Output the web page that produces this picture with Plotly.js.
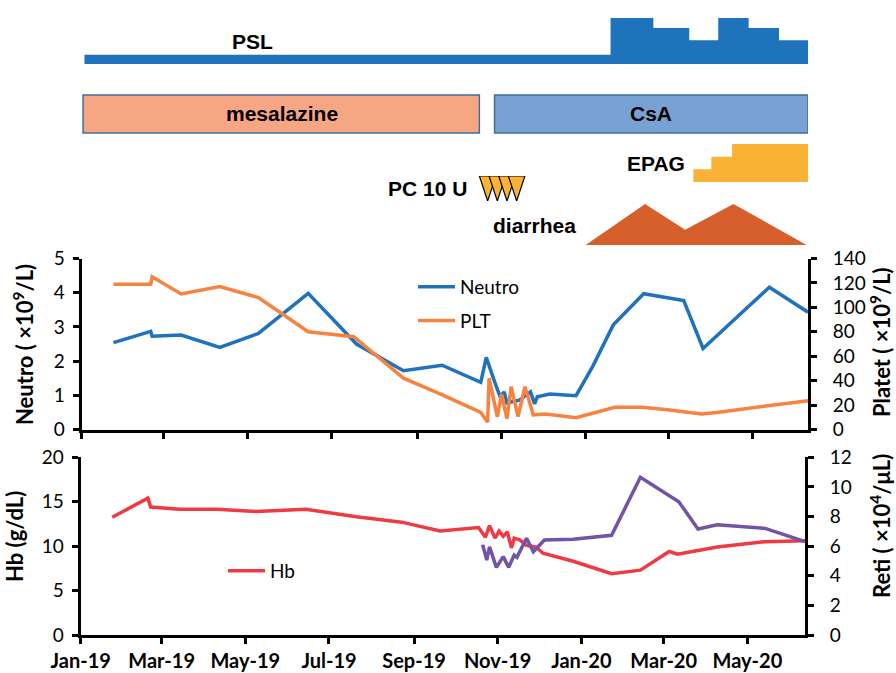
<!DOCTYPE html>
<html>
<head>
<meta charset="utf-8">
<script src="https://cdn.plot.ly/plotly-3.0.1.min.js"></script>
<style>html,body{margin:0;padding:0;background:#fff;}#chart{width:896px;height:673px;}</style>
</head>
<body>
<div id="chart"></div>
<script>
// ---------- data ----------
const tickDates = ['2019-01-01','2019-03-01','2019-05-01','2019-07-01','2019-09-01','2019-11-01','2020-01-01','2020-03-01','2020-05-01'];
const tickLabels = ['Jan-19','Mar-19','May-19','Jul-19','Sep-19','Nov-19','Jan-20','Mar-20','May-20'];

const neutroDates = ['2019-01-24','2019-02-20','2019-02-21','2019-03-14','2019-04-11','2019-05-09','2019-06-14','2019-07-19','2019-08-22','2019-09-19','2019-10-17','2019-10-21','2019-10-27','2019-10-31','2019-11-03','2019-11-05','2019-11-14','2019-11-22','2019-11-25','2019-11-27','2019-12-06','2019-12-25','2020-01-06','2020-01-21','2020-02-12','2020-03-12','2020-03-26','2020-05-13','2020-06-10'];
const neutroValues = [2.54,2.87,2.73,2.76,2.40,2.81,3.98,2.50,1.72,1.88,1.38,2.11,1.40,0.96,1.10,0.78,0.86,1.10,0.75,0.96,1.04,0.99,1.84,3.06,3.97,3.77,2.37,4.16,3.43];

const pltDates = ['2019-01-24','2019-02-20','2019-02-21','2019-03-14','2019-04-11','2019-05-09','2019-06-14','2019-07-17','2019-08-22','2019-09-18','2019-10-17','2019-10-22','2019-10-23','2019-10-29','2019-11-01','2019-11-05','2019-11-08','2019-11-13','2019-11-18','2019-11-24','2019-12-03','2019-12-25','2020-01-22','2020-02-11','2020-03-02','2020-03-25','2020-04-05','2020-05-13','2020-06-10'];
const pltValues = [119,119,125,111,117,108,80,76,42,29,14,6,42,10.5,29,9,35,10.5,35,12,12.7,9.7,18.2,18.2,16,12.7,14,19.5,23.6];

const hbDates = ['2019-01-24','2019-02-19','2019-02-21','2019-03-14','2019-04-10','2019-05-09','2019-06-14','2019-07-21','2019-08-23','2019-09-20','2019-10-18','2019-10-23','2019-10-26','2019-10-30','2019-11-02','2019-11-05','2019-11-08','2019-11-11','2019-11-13','2019-11-17','2019-11-22','2019-11-29','2019-12-04','2019-12-26','2020-01-23','2020-02-13','2020-03-05','2020-03-11','2020-03-26','2020-04-09','2020-05-14','2020-06-12'];
const hbValues = [13.25,15.4,14.4,14.15,14.15,13.9,14.15,13.3,12.7,11.7,12.1,11.0,12.3,10.9,11.7,11.1,11.6,9.8,10.9,10.7,10.1,9.9,9.2,8.3,6.9,7.3,9.4,9.1,9.5,9.9,10.5,10.6];

const retiDates = ['2019-10-21','2019-10-24','2019-10-26','2019-10-31','2019-11-05','2019-11-09','2019-11-13','2019-11-15','2019-11-22','2019-11-27','2019-12-05','2019-12-26','2020-01-23','2020-02-13','2020-03-12','2020-03-26','2020-04-09','2020-05-14','2020-06-12'];
const retiValues = [6.1,5.06,5.96,4.57,5.29,4.57,5.4,5.25,6.53,5.62,6.41,6.46,6.73,10.65,9.0,7.16,7.45,7.2,6.3];

// treatment timeline
const pslStart = ['2019-01-03','2020-01-19','2020-02-19','2020-03-16','2020-04-06','2020-04-28','2020-05-20'];
const pslDose = [6,30,23.5,15.5,30,23.5,15.5];
const pslEnd = '2020-06-10';

const mesalazinePeriod = ['2019-01-02','2019-10-16'];
const csaPeriod = ['2019-10-27','2020-06-10'];

const epagStart = ['2020-03-19','2020-04-01','2020-04-16'];
const epagDose = [25,50,75];
const epagEnd = '2020-06-10';

const pcDates = ['2019-10-22','2019-10-29','2019-11-05','2019-11-12'];

const diarrheaDates = ['2020-01-01','2020-02-13','2020-03-13','2020-04-17','2020-06-09'];
const diarrheaGrade = [0,1,0.37,1,0];

// ---------- helpers (layout only) ----------
const PH = 635; // plot-area height in px (margin b = 38)
const px = x => x / 896;
const py = r => (PH - r) / PH;
const DAY = 86400000;
const shiftDate = (s, days) => new Date(new Date(s + 'T00:00:00Z').getTime() + days * DAY).toISOString().slice(0, 10);

const FONT = 'Lato, "Open Sans", sans-serif';
const LBL = '"Liberation Sans", Arial, sans-serif';

// ---------- traces ----------
const traces = [];
traces.push({x: neutroDates, y: neutroValues, xaxis: 'x2', yaxis: 'y3', type: 'scatter', mode: 'lines',
  name: 'Neutro', line: {color: '#2072BC', width: 3.5}, legend: 'legend', legendgroup: 'a'});
traces.push({x: pltDates, y: pltValues, xaxis: 'x2', yaxis: 'y4', type: 'scatter', mode: 'lines',
  name: 'PLT', line: {color: '#F6833F', width: 3.5}, legend: 'legend', legendgroup: 'b'});
traces.push({x: hbDates, y: hbValues, xaxis: 'x', yaxis: 'y', type: 'scatter', mode: 'lines',
  name: 'Hb', line: {color: '#EF3A43', width: 3.5}, legend: 'legend2'});
traces.push({x: retiDates, y: retiValues, xaxis: 'x', yaxis: 'y2', type: 'scatter', mode: 'lines',
  name: 'Reti', line: {color: '#7353A5', width: 3.5}, showlegend: false});

// PSL steps
traces.push({x: pslStart.concat([pslEnd]), y: pslDose.concat([pslDose[pslDose.length - 1]]),
  xaxis: 'x2', yaxis: 'y5', type: 'scatter', mode: 'lines', line: {shape: 'hv', width: 0, color: '#1F72BC'},
  fill: 'tozeroy', fillcolor: '#1F72BC', showlegend: false, hoverinfo: 'skip'});
// EPAG steps
traces.push({x: epagStart.concat([epagEnd]), y: epagDose.concat([epagDose[epagDose.length - 1]]),
  xaxis: 'x2', yaxis: 'y6', type: 'scatter', mode: 'lines', line: {shape: 'hv', width: 0, color: '#F9B233'},
  fill: 'tozeroy', fillcolor: '#F9B233', showlegend: false, hoverinfo: 'skip'});
// PC transfusions (inverted triangles)
pcDates.forEach(d => {
  traces.push({x: [shiftDate(d, -6), shiftDate(d, 6), d, shiftDate(d, -6)], y: [1, 1, 0, 1],
    xaxis: 'x2', yaxis: 'y7', type: 'scatter', mode: 'lines', fill: 'toself', fillcolor: '#F9B233',
    line: {color: '#000', width: 1.2}, showlegend: false, hoverinfo: 'skip'});
});
// diarrhea
traces.push({x: diarrheaDates, y: diarrheaGrade, xaxis: 'x2', yaxis: 'y8', type: 'scatter', mode: 'lines',
  line: {width: 0, color: '#D65F2B'}, fill: 'toself', fillcolor: '#D65F2B', showlegend: false, hoverinfo: 'skip'});

// ---------- layout ----------
const axBase = {showline: true, linecolor: '#000', linewidth: 3, ticks: 'outside', ticklen: 6, tickwidth: 3,
  tickcolor: '#000', showgrid: false, zeroline: false, fixedrange: true, tickfont: {family: FONT, size: 19, color: '#000'}};
const hidden = {visible: false, fixedrange: true, showgrid: false, zeroline: false};

const lblFont = {family: LBL, size: 21, weight: 'bold', color: '#000'};
const ttlFont = {family: FONT, size: 22, weight: 'bold', color: '#000'};
const ann = (text, x, y, font, extra) => Object.assign({text, xref: 'paper', yref: 'paper', x: px(x), y: py(y),
  xanchor: 'center', yanchor: 'middle', showarrow: false, font}, extra || {});

const layout = {
  width: 896, height: 673,
  margin: {l: 0, r: 0, t: 0, b: 38},
  paper_bgcolor: '#fff', plot_bgcolor: 'rgba(0,0,0,0)',
  font: {family: FONT, color: '#000'},
  showlegend: true,
  xaxis: Object.assign({}, axBase, {type: 'date', domain: [px(80.7), px(805)], range: ['2019-01-01', '2020-06-12'],
    anchor: 'y', tickmode: 'array', tickvals: tickDates, ticktext: tickLabels,
    tickfont: {family: FONT, size: 20, color: '#000', weight: 'bold'}}),
  yaxis: Object.assign({}, axBase, {domain: [0, py(457.3)], range: [0, 20], dtick: 5, anchor: 'x', ticklabelstandoff: 4}),
  yaxis2: Object.assign({}, axBase, {overlaying: 'y', side: 'right', anchor: 'x', range: [0, 12], dtick: 2, ticklabelstandoff: 12}),
  xaxis2: Object.assign({}, axBase, {type: 'date', domain: [px(81.7), px(808)], range: ['2019-01-01', '2020-06-10'],
    anchor: 'y3', tickmode: 'array', tickvals: tickDates, showticklabels: false}),
  yaxis3: Object.assign({}, axBase, {domain: [py(429.5), py(258.5)], range: [0, 5], dtick: 1, anchor: 'x2', ticklabelstandoff: 4}),
  yaxis4: Object.assign({}, axBase, {overlaying: 'y3', side: 'right', anchor: 'x2', range: [0, 140], dtick: 20, ticklabelstandoff: 12}),
  yaxis5: Object.assign({}, hidden, {domain: [py(64), py(18)], range: [0, 30], anchor: 'x2'}),
  yaxis6: Object.assign({}, hidden, {domain: [py(182), py(144)], range: [0, 75], anchor: 'x2'}),
  yaxis7: Object.assign({}, hidden, {domain: [py(201), py(176)], range: [0, 1], anchor: 'x2'}),
  yaxis8: Object.assign({}, hidden, {domain: [py(245), py(204)], range: [0, 1], anchor: 'x2'}),
  legend: {x: px(413), y: py(268), xanchor: 'left', yanchor: 'top', bgcolor: 'rgba(0,0,0,0)', itemwidth: 37,
    font: {family: FONT, size: 19, color: '#000'}, traceorder: 'grouped', tracegroupgap: 6},
  legend2: {x: px(223), y: py(552), xanchor: 'left', yanchor: 'top', bgcolor: 'rgba(0,0,0,0)', itemwidth: 37,
    font: {family: FONT, size: 19, color: '#000'}},
  shapes: [
    {type: 'rect', xref: 'x2', yref: 'paper', x0: mesalazinePeriod[0], x1: mesalazinePeriod[1], y0: py(133), y1: py(95),
      fillcolor: '#F7A684', line: {color: '#3F6E9C', width: 1.5}},
    {type: 'rect', xref: 'x2', yref: 'paper', x0: csaPeriod[0], x1: csaPeriod[1], y0: py(133), y1: py(95),
      fillcolor: '#79A2D4', line: {color: '#3F6E9C', width: 1.5}}
  ],
  annotations: [
    ann('PSL', 252, 41, lblFont),
    ann('mesalazine', 282, 113, lblFont),
    ann('CsA', 651, 113, lblFont),
    ann('EPAG', 656, 163, lblFont),
    ann('PC 10 U', 427, 188, lblFont),
    ann('diarrhea', 534, 226, lblFont),
    ann('Neutro ( ×10<sup>9</sup>/L)', 24, 345, ttlFont, {textangle: -90}),
    ann('Platet ( ×10<sup>9</sup>/L)', 880, 342, ttlFont, {textangle: -90}),
    ann('Hb (g/dL)', 14, 537, ttlFont, {textangle: -90}),
    ann('Reti ( ×10<sup>4</sup>/μL)', 880, 526, ttlFont, {textangle: -90})
  ]
};

Plotly.newPlot('chart', traces, layout, {displayModeBar: false, staticPlot: true});
</script>
</body>
</html>
